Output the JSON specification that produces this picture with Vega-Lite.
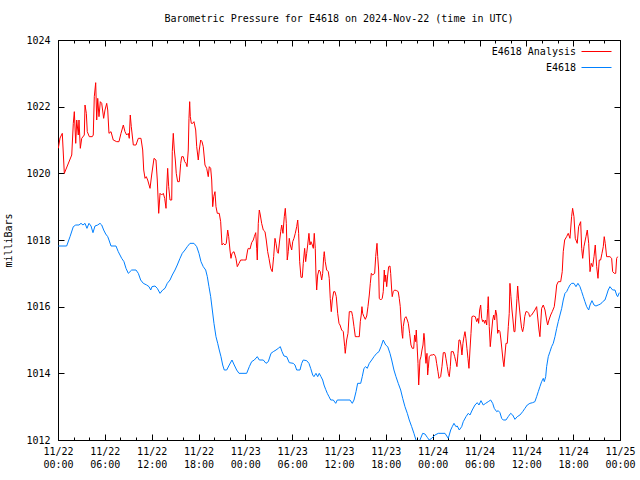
{
  "$schema": "https://vega.github.io/schema/vega-lite/v6.json",
  "autosize": "none",
  "width": 562,
  "height": 400,
  "padding": {"left": 58, "top": 40, "right": 20, "bottom": 40},
  "title": {"text": "Barometric Pressure for E4618 on 2024-Nov-22 (time in UTC)", "font": "DejaVu Sans Mono", "fontSize": 10, "fontWeight": "normal", "anchor": "middle", "offset": 11, "color": "#000000"},
  "config": {
    "view": {"stroke": "#000000", "strokeWidth": 1},
    "axis": {"labelFont": "DejaVu Sans Mono", "labelFontSize": 10, "labelColor": "#000000", "titleFont": "DejaVu Sans Mono", "titleFontSize": 10, "titleFontWeight": "normal", "titleColor": "#000000"},
    "legend": {"labelFont": "DejaVu Sans Mono", "labelFontSize": 10, "labelColor": "#000000", "padding": 0}
  },
  "datasets": {
    "analysis": [
      {"t":0.04,"p":1020.75},{"t":0.26,"p":1021.06},{"t":0.55,"p":1021.2},{"t":0.81,"p":1020.0},{"t":1.76,"p":1020.55},{"t":1.96,"p":1021.5},{"t":2.09,"p":1021.85},{"t":2.27,"p":1020.9},{"t":2.4,"p":1021.6},{"t":2.6,"p":1021.15},{"t":2.69,"p":1021.6},{"t":2.86,"p":1020.75},{"t":3.04,"p":1021.05},{"t":3.37,"p":1021.15},{"t":3.46,"p":1022.05},{"t":3.63,"p":1021.8},{"t":3.75,"p":1021.25},{"t":4.01,"p":1021.1},{"t":4.39,"p":1021.1},{"t":4.52,"p":1021.15},{"t":4.65,"p":1022.3},{"t":4.83,"p":1022.72},{"t":4.96,"p":1021.6},{"t":5.09,"p":1022.25},{"t":5.25,"p":1021.7},{"t":5.42,"p":1022.15},{"t":5.6,"p":1022.1},{"t":5.85,"p":1021.65},{"t":6.02,"p":1021.9},{"t":6.24,"p":1022.1},{"t":6.37,"p":1021.9},{"t":6.53,"p":1021.2},{"t":6.79,"p":1021.25},{"t":7.08,"p":1021.0},{"t":7.52,"p":1020.95},{"t":7.81,"p":1020.95},{"t":8.07,"p":1021.2},{"t":8.37,"p":1021.45},{"t":8.58,"p":1021.25},{"t":8.8,"p":1021.15},{"t":9.01,"p":1021.2},{"t":9.13,"p":1021.05},{"t":9.26,"p":1021.75},{"t":9.39,"p":1021.4},{"t":9.65,"p":1020.85},{"t":9.99,"p":1020.85},{"t":10.29,"p":1021.05},{"t":10.63,"p":1021.05},{"t":10.85,"p":1020.7},{"t":10.98,"p":1020.1},{"t":11.15,"p":1019.85},{"t":11.31,"p":1019.9},{"t":11.49,"p":1019.8},{"t":11.79,"p":1019.55},{"t":12.0,"p":1019.95},{"t":12.3,"p":1020.45},{"t":12.55,"p":1020.4},{"t":12.72,"p":1019.8},{"t":12.9,"p":1018.8},{"t":13.07,"p":1019.4},{"t":13.28,"p":1019.35},{"t":13.49,"p":1019.4},{"t":13.67,"p":1019.25},{"t":13.84,"p":1018.95},{"t":13.92,"p":1019.5},{"t":14.05,"p":1020.15},{"t":14.18,"p":1019.6},{"t":14.35,"p":1019.2},{"t":14.57,"p":1019.2},{"t":14.64,"p":1020.65},{"t":14.77,"p":1021.2},{"t":14.9,"p":1020.7},{"t":15.03,"p":1020.4},{"t":15.15,"p":1020.0},{"t":15.33,"p":1019.75},{"t":15.54,"p":1019.75},{"t":15.72,"p":1020.3},{"t":15.85,"p":1020.5},{"t":16.05,"p":1020.5},{"t":16.23,"p":1020.35},{"t":16.4,"p":1020.3},{"t":16.53,"p":1020.2},{"t":16.69,"p":1020.7},{"t":16.78,"p":1021.65},{"t":16.87,"p":1022.15},{"t":16.95,"p":1021.7},{"t":17.08,"p":1021.5},{"t":17.26,"p":1021.5},{"t":17.42,"p":1021.55},{"t":17.64,"p":1021.3},{"t":17.77,"p":1020.8},{"t":17.97,"p":1020.4},{"t":18.1,"p":1020.7},{"t":18.28,"p":1021.0},{"t":18.45,"p":1020.95},{"t":18.61,"p":1020.8},{"t":18.83,"p":1020.25},{"t":19.05,"p":1020.15},{"t":19.25,"p":1019.9},{"t":19.38,"p":1020.2},{"t":19.56,"p":1020.15},{"t":19.69,"p":1019.8},{"t":19.82,"p":1019.0},{"t":19.95,"p":1019.3},{"t":20.11,"p":1019.45},{"t":20.24,"p":1019.0},{"t":20.41,"p":1018.8},{"t":20.66,"p":1018.8},{"t":20.84,"p":1018.55},{"t":21.01,"p":1017.85},{"t":21.18,"p":1017.9},{"t":21.39,"p":1017.85},{"t":21.56,"p":1017.9},{"t":21.74,"p":1018.3},{"t":21.87,"p":1018.1},{"t":22.03,"p":1017.7},{"t":22.16,"p":1017.45},{"t":22.29,"p":1017.6},{"t":22.55,"p":1017.65},{"t":22.8,"p":1017.45},{"t":22.97,"p":1017.2},{"t":23.19,"p":1017.3},{"t":23.4,"p":1017.4},{"t":23.74,"p":1017.4},{"t":24.08,"p":1017.4},{"t":24.3,"p":1017.7},{"t":24.38,"p":1017.75},{"t":24.6,"p":1017.73},{"t":24.81,"p":1017.92},{"t":25.02,"p":1018.0},{"t":25.15,"p":1018.1},{"t":25.33,"p":1018.22},{"t":25.46,"p":1017.75},{"t":25.53,"p":1017.4},{"t":25.66,"p":1018.5},{"t":25.79,"p":1018.9},{"t":25.92,"p":1018.75},{"t":26.09,"p":1018.5},{"t":26.3,"p":1018.3},{"t":26.52,"p":1018.25},{"t":26.68,"p":1018.0},{"t":26.86,"p":1017.65},{"t":27.03,"p":1017.45},{"t":27.25,"p":1017.15},{"t":27.45,"p":1017.05},{"t":27.63,"p":1017.5},{"t":27.8,"p":1018.05},{"t":27.93,"p":1017.9},{"t":28.09,"p":1017.65},{"t":28.22,"p":1017.6},{"t":28.4,"p":1018.0},{"t":28.53,"p":1018.25},{"t":28.66,"p":1018.45},{"t":28.82,"p":1018.2},{"t":28.99,"p":1018.7},{"t":29.12,"p":1018.95},{"t":29.25,"p":1018.5},{"t":29.37,"p":1017.4},{"t":29.5,"p":1017.65},{"t":29.63,"p":1018.05},{"t":29.76,"p":1017.85},{"t":29.94,"p":1017.7},{"t":30.07,"p":1017.95},{"t":30.23,"p":1018.05},{"t":30.4,"p":1018.2},{"t":30.58,"p":1018.4},{"t":30.71,"p":1018.6},{"t":30.83,"p":1018.2},{"t":30.96,"p":1017.35},{"t":31.13,"p":1016.88},{"t":31.3,"p":1016.88},{"t":31.42,"p":1017.3},{"t":31.6,"p":1017.75},{"t":31.73,"p":1017.35},{"t":31.86,"p":1017.6},{"t":31.99,"p":1017.85},{"t":32.15,"p":1018.2},{"t":32.28,"p":1017.85},{"t":32.41,"p":1017.95},{"t":32.58,"p":1017.85},{"t":32.71,"p":1017.75},{"t":32.83,"p":1018.2},{"t":32.96,"p":1017.75},{"t":33.05,"p":1016.95},{"t":33.14,"p":1016.5},{"t":33.27,"p":1016.95},{"t":33.44,"p":1017.1},{"t":33.6,"p":1017.05},{"t":33.78,"p":1016.8},{"t":33.91,"p":1017.0},{"t":34.04,"p":1017.5},{"t":34.11,"p":1017.65},{"t":34.24,"p":1017.35},{"t":34.42,"p":1017.1},{"t":34.63,"p":1017.05},{"t":34.75,"p":1016.85},{"t":34.88,"p":1016.25},{"t":35.01,"p":1015.85},{"t":35.14,"p":1016.2},{"t":35.32,"p":1016.45},{"t":35.48,"p":1016.45},{"t":35.65,"p":1016.3},{"t":35.83,"p":1015.8},{"t":36.0,"p":1015.5},{"t":36.13,"p":1015.45},{"t":36.34,"p":1015.3},{"t":36.55,"p":1015.25},{"t":36.73,"p":1014.8},{"t":36.8,"p":1014.6},{"t":36.98,"p":1015.0},{"t":37.15,"p":1015.2},{"t":37.32,"p":1015.85},{"t":37.62,"p":1015.85},{"t":37.75,"p":1015.7},{"t":37.92,"p":1015.4},{"t":38.09,"p":1015.1},{"t":38.34,"p":1015.1},{"t":38.6,"p":1015.1},{"t":38.73,"p":1015.55},{"t":38.85,"p":1015.75},{"t":38.94,"p":1016.0},{"t":39.03,"p":1015.8},{"t":39.2,"p":1015.7},{"t":39.37,"p":1015.62},{"t":39.55,"p":1015.72},{"t":39.71,"p":1016.0},{"t":39.88,"p":1016.35},{"t":40.01,"p":1016.7},{"t":40.14,"p":1017.0},{"t":40.31,"p":1016.95},{"t":40.57,"p":1017.0},{"t":40.7,"p":1017.5},{"t":40.78,"p":1017.7},{"t":40.87,"p":1017.9},{"t":40.96,"p":1017.5},{"t":41.08,"p":1017.1},{"t":41.16,"p":1016.25},{"t":41.34,"p":1016.2},{"t":41.54,"p":1016.25},{"t":41.67,"p":1016.45},{"t":41.8,"p":1017.1},{"t":41.89,"p":1016.75},{"t":41.98,"p":1016.95},{"t":42.11,"p":1016.6},{"t":42.24,"p":1016.95},{"t":42.36,"p":1017.2},{"t":42.53,"p":1017.22},{"t":42.62,"p":1017.0},{"t":42.75,"p":1016.5},{"t":42.82,"p":1016.3},{"t":42.95,"p":1016.45},{"t":43.13,"p":1016.5},{"t":43.39,"p":1016.48},{"t":43.59,"p":1016.45},{"t":43.72,"p":1016.25},{"t":43.85,"p":1016.0},{"t":43.94,"p":1015.6},{"t":44.07,"p":1015.2},{"t":44.16,"p":1015.05},{"t":44.23,"p":1015.4},{"t":44.41,"p":1015.65},{"t":44.58,"p":1015.7},{"t":44.75,"p":1015.6},{"t":44.88,"p":1015.5},{"t":45.05,"p":1015.2},{"t":45.22,"p":1014.85},{"t":45.39,"p":1014.75},{"t":45.57,"p":1014.75},{"t":45.69,"p":1015.15},{"t":45.82,"p":1014.95},{"t":45.9,"p":1015.3},{"t":45.99,"p":1014.9},{"t":46.12,"p":1014.3},{"t":46.21,"p":1013.65},{"t":46.28,"p":1013.95},{"t":46.37,"p":1014.4},{"t":46.5,"p":1014.5},{"t":46.63,"p":1014.7},{"t":46.76,"p":1014.85},{"t":46.88,"p":1015.2},{"t":46.97,"p":1015.0},{"t":47.05,"p":1014.55},{"t":47.14,"p":1014.3},{"t":47.27,"p":1014.6},{"t":47.36,"p":1013.95},{"t":47.44,"p":1014.15},{"t":47.56,"p":1014.5},{"t":47.74,"p":1014.55},{"t":47.95,"p":1014.55},{"t":48.17,"p":1014.57},{"t":48.38,"p":1014.5},{"t":48.51,"p":1014.3},{"t":48.68,"p":1014.05},{"t":48.81,"p":1013.85},{"t":49.02,"p":1013.9},{"t":49.19,"p":1014.2},{"t":49.36,"p":1014.62},{"t":49.58,"p":1014.62},{"t":49.7,"p":1014.45},{"t":49.87,"p":1014.2},{"t":50.0,"p":1014.0},{"t":50.13,"p":1013.9},{"t":50.26,"p":1014.2},{"t":50.38,"p":1014.65},{"t":50.64,"p":1014.65},{"t":50.82,"p":1014.5},{"t":50.98,"p":1014.35},{"t":51.11,"p":1014.2},{"t":51.24,"p":1014.6},{"t":51.37,"p":1015.0},{"t":51.5,"p":1015.0},{"t":51.62,"p":1014.85},{"t":51.75,"p":1014.55},{"t":51.88,"p":1014.9},{"t":52.01,"p":1015.1},{"t":52.14,"p":1015.25},{"t":52.26,"p":1015.05},{"t":52.39,"p":1014.75},{"t":52.52,"p":1014.45},{"t":52.65,"p":1014.15},{"t":52.78,"p":1014.7},{"t":52.91,"p":1015.2},{"t":53.03,"p":1015.7},{"t":53.2,"p":1015.72},{"t":53.46,"p":1015.7},{"t":53.64,"p":1015.55},{"t":53.8,"p":1015.65},{"t":53.89,"p":1015.5},{"t":54.02,"p":1015.9},{"t":54.15,"p":1016.05},{"t":54.28,"p":1015.65},{"t":54.41,"p":1015.55},{"t":54.53,"p":1015.6},{"t":54.66,"p":1015.5},{"t":54.79,"p":1015.6},{"t":54.92,"p":1015.45},{"t":55.05,"p":1015.95},{"t":55.12,"p":1016.3},{"t":55.25,"p":1015.4},{"t":55.38,"p":1014.8},{"t":55.51,"p":1015.15},{"t":55.69,"p":1015.6},{"t":55.82,"p":1015.75},{"t":55.94,"p":1015.6},{"t":56.07,"p":1015.9},{"t":56.2,"p":1015.75},{"t":56.33,"p":1015.2},{"t":56.46,"p":1015.3},{"t":56.62,"p":1015.25},{"t":56.75,"p":1015.0},{"t":56.88,"p":1014.7},{"t":57.01,"p":1014.4},{"t":57.13,"p":1014.2},{"t":57.26,"p":1014.55},{"t":57.39,"p":1014.9},{"t":57.56,"p":1014.9},{"t":57.69,"p":1015.4},{"t":57.81,"p":1015.8},{"t":57.9,"p":1016.7},{"t":58.03,"p":1016.3},{"t":58.16,"p":1015.9},{"t":58.29,"p":1015.6},{"t":58.42,"p":1015.25},{"t":58.54,"p":1015.25},{"t":58.67,"p":1015.75},{"t":58.8,"p":1016.25},{"t":58.89,"p":1016.62},{"t":59.02,"p":1016.2},{"t":59.14,"p":1015.9},{"t":59.27,"p":1015.6},{"t":59.4,"p":1015.35},{"t":59.53,"p":1015.25},{"t":59.66,"p":1015.4},{"t":59.79,"p":1015.7},{"t":59.95,"p":1015.85},{"t":60.12,"p":1015.85},{"t":60.3,"p":1015.8},{"t":60.43,"p":1015.7},{"t":60.68,"p":1015.75},{"t":61.1,"p":1015.9},{"t":61.32,"p":1016.0},{"t":61.62,"p":1015.3},{"t":61.74,"p":1015.1},{"t":61.96,"p":1015.95},{"t":62.17,"p":1016.05},{"t":62.39,"p":1015.9},{"t":62.6,"p":1015.6},{"t":62.73,"p":1015.45},{"t":62.9,"p":1015.6},{"t":63.12,"p":1015.75},{"t":63.32,"p":1015.85},{"t":63.58,"p":1016.0},{"t":63.76,"p":1016.35},{"t":63.89,"p":1016.65},{"t":64.09,"p":1016.75},{"t":64.4,"p":1016.75},{"t":64.6,"p":1017.05},{"t":64.73,"p":1017.65},{"t":64.91,"p":1018.0},{"t":65.16,"p":1018.1},{"t":65.37,"p":1018.2},{"t":65.59,"p":1018.05},{"t":65.8,"p":1018.7},{"t":65.93,"p":1018.95},{"t":66.1,"p":1018.7},{"t":66.27,"p":1018.05},{"t":66.52,"p":1017.9},{"t":66.7,"p":1018.4},{"t":66.96,"p":1018.55},{"t":67.09,"p":1017.75},{"t":67.22,"p":1017.45},{"t":67.38,"p":1017.8},{"t":67.64,"p":1018.1},{"t":67.81,"p":1018.3},{"t":67.99,"p":1017.9},{"t":68.16,"p":1017.05},{"t":68.32,"p":1017.3},{"t":68.5,"p":1017.2},{"t":68.67,"p":1017.5},{"t":68.83,"p":1017.85},{"t":69.01,"p":1017.2},{"t":69.18,"p":1016.85},{"t":69.34,"p":1017.4},{"t":69.52,"p":1017.4},{"t":69.69,"p":1017.6},{"t":69.86,"p":1017.8},{"t":69.98,"p":1018.1},{"t":70.11,"p":1017.9},{"t":70.29,"p":1017.5},{"t":70.46,"p":1017.5},{"t":70.71,"p":1017.5},{"t":70.93,"p":1017.45},{"t":71.06,"p":1017.05},{"t":71.27,"p":1017.0},{"t":71.45,"p":1017.0},{"t":71.57,"p":1017.45},{"t":71.7,"p":1017.5}
    ],
    "obs": [
      {"t":0.04,"p":1017.82},{"t":1.11,"p":1017.82},{"t":1.54,"p":1018.1},{"t":1.96,"p":1018.4},{"t":2.27,"p":1018.45},{"t":2.69,"p":1018.45},{"t":2.95,"p":1018.5},{"t":3.2,"p":1018.45},{"t":3.46,"p":1018.5},{"t":3.71,"p":1018.35},{"t":3.97,"p":1018.5},{"t":4.23,"p":1018.42},{"t":4.48,"p":1018.22},{"t":4.74,"p":1018.42},{"t":5.09,"p":1018.45},{"t":5.38,"p":1018.5},{"t":5.6,"p":1018.45},{"t":5.85,"p":1018.3},{"t":6.11,"p":1018.18},{"t":6.37,"p":1018.1},{"t":6.53,"p":1018.0},{"t":6.79,"p":1017.82},{"t":7.43,"p":1017.82},{"t":7.72,"p":1017.65},{"t":8.16,"p":1017.45},{"t":8.45,"p":1017.35},{"t":8.71,"p":1017.15},{"t":9.01,"p":1017.0},{"t":9.44,"p":1017.1},{"t":9.99,"p":1017.1},{"t":10.29,"p":1017.0},{"t":10.59,"p":1016.8},{"t":10.93,"p":1016.7},{"t":11.36,"p":1016.65},{"t":11.66,"p":1016.6},{"t":11.88,"p":1016.5},{"t":12.04,"p":1016.6},{"t":12.43,"p":1016.62},{"t":12.72,"p":1016.55},{"t":13.07,"p":1016.4},{"t":13.41,"p":1016.5},{"t":13.71,"p":1016.55},{"t":14.0,"p":1016.7},{"t":14.35,"p":1016.8},{"t":14.64,"p":1016.95},{"t":14.99,"p":1017.1},{"t":15.28,"p":1017.25},{"t":15.63,"p":1017.45},{"t":15.92,"p":1017.6},{"t":16.27,"p":1017.7},{"t":16.56,"p":1017.8},{"t":16.91,"p":1017.9},{"t":17.42,"p":1017.9},{"t":17.77,"p":1017.8},{"t":18.06,"p":1017.6},{"t":18.32,"p":1017.35},{"t":18.61,"p":1017.2},{"t":18.92,"p":1017.1},{"t":19.13,"p":1016.9},{"t":19.34,"p":1016.6},{"t":19.56,"p":1016.3},{"t":19.77,"p":1015.9},{"t":19.98,"p":1015.5},{"t":20.24,"p":1015.1},{"t":20.46,"p":1014.9},{"t":20.66,"p":1014.7},{"t":20.88,"p":1014.5},{"t":21.1,"p":1014.25},{"t":21.3,"p":1014.1},{"t":21.61,"p":1014.1},{"t":21.94,"p":1014.25},{"t":22.29,"p":1014.4},{"t":22.58,"p":1014.25},{"t":22.89,"p":1014.1},{"t":23.19,"p":1014.0},{"t":24.17,"p":1014.0},{"t":24.51,"p":1014.2},{"t":24.81,"p":1014.35},{"t":25.15,"p":1014.4},{"t":25.53,"p":1014.5},{"t":25.79,"p":1014.4},{"t":26.3,"p":1014.4},{"t":26.65,"p":1014.3},{"t":26.94,"p":1014.35},{"t":27.29,"p":1014.6},{"t":27.58,"p":1014.65},{"t":27.93,"p":1014.7},{"t":28.22,"p":1014.75},{"t":28.48,"p":1014.8},{"t":28.7,"p":1014.65},{"t":28.95,"p":1014.52},{"t":29.3,"p":1014.5},{"t":29.63,"p":1014.32},{"t":30.14,"p":1014.3},{"t":30.36,"p":1014.25},{"t":30.58,"p":1014.1},{"t":31.0,"p":1014.1},{"t":31.22,"p":1014.3},{"t":31.42,"p":1014.4},{"t":31.86,"p":1014.38},{"t":32.15,"p":1014.3},{"t":32.37,"p":1014.15},{"t":32.63,"p":1013.95},{"t":32.79,"p":1013.9},{"t":33.05,"p":1014.0},{"t":33.27,"p":1013.9},{"t":33.47,"p":1014.0},{"t":33.69,"p":1013.9},{"t":33.91,"p":1013.8},{"t":34.08,"p":1013.65},{"t":34.29,"p":1013.52},{"t":34.5,"p":1013.4},{"t":34.72,"p":1013.3},{"t":34.94,"p":1013.2},{"t":35.27,"p":1013.2},{"t":35.58,"p":1013.1},{"t":35.78,"p":1013.2},{"t":37.41,"p":1013.2},{"t":37.7,"p":1013.1},{"t":37.92,"p":1013.2},{"t":38.18,"p":1013.45},{"t":38.39,"p":1013.7},{"t":38.78,"p":1013.7},{"t":38.98,"p":1013.9},{"t":39.2,"p":1014.15},{"t":39.42,"p":1014.2},{"t":39.62,"p":1014.15},{"t":39.88,"p":1014.3},{"t":40.19,"p":1014.4},{"t":40.48,"p":1014.5},{"t":40.83,"p":1014.6},{"t":41.12,"p":1014.65},{"t":41.38,"p":1014.8},{"t":41.67,"p":1015.0},{"t":41.98,"p":1014.85},{"t":42.24,"p":1014.8},{"t":42.53,"p":1014.6},{"t":42.75,"p":1014.4},{"t":43.04,"p":1014.1},{"t":43.3,"p":1013.9},{"t":43.59,"p":1013.7},{"t":43.9,"p":1013.5},{"t":44.16,"p":1013.25},{"t":44.45,"p":1013.0},{"t":44.75,"p":1012.8},{"t":45.0,"p":1012.6},{"t":45.31,"p":1012.4},{"t":45.6,"p":1012.2},{"t":45.86,"p":1012.0},{"t":46.12,"p":1011.9},{"t":46.37,"p":1012.0},{"t":46.72,"p":1012.2},{"t":47.01,"p":1012.18},{"t":47.31,"p":1012.08},{"t":47.56,"p":1012.0},{"t":47.87,"p":1012.05},{"t":48.3,"p":1012.15},{"t":48.72,"p":1012.2},{"t":49.58,"p":1012.2},{"t":50.0,"p":1012.05},{"t":50.31,"p":1012.3},{"t":50.51,"p":1012.4},{"t":50.73,"p":1012.5},{"t":50.98,"p":1012.4},{"t":51.15,"p":1012.42},{"t":51.41,"p":1012.3},{"t":51.72,"p":1012.4},{"t":51.92,"p":1012.55},{"t":52.27,"p":1012.7},{"t":52.56,"p":1012.8},{"t":52.78,"p":1012.75},{"t":53.07,"p":1012.9},{"t":53.42,"p":1013.05},{"t":53.71,"p":1013.12},{"t":53.93,"p":1013.05},{"t":54.19,"p":1013.18},{"t":54.48,"p":1013.05},{"t":54.79,"p":1013.1},{"t":55.12,"p":1013.15},{"t":55.43,"p":1013.2},{"t":55.69,"p":1013.1},{"t":55.89,"p":1012.95},{"t":56.2,"p":1012.85},{"t":56.4,"p":1012.88},{"t":56.62,"p":1012.82},{"t":56.84,"p":1012.65},{"t":57.04,"p":1012.6},{"t":57.39,"p":1012.6},{"t":57.68,"p":1012.7},{"t":57.99,"p":1012.8},{"t":58.25,"p":1012.75},{"t":58.54,"p":1012.62},{"t":58.84,"p":1012.7},{"t":59.18,"p":1012.75},{"t":59.53,"p":1012.85},{"t":59.82,"p":1012.95},{"t":60.12,"p":1013.05},{"t":60.46,"p":1013.1},{"t":60.81,"p":1013.12},{"t":61.1,"p":1013.15},{"t":61.32,"p":1013.3},{"t":61.53,"p":1013.45},{"t":61.74,"p":1013.6},{"t":61.96,"p":1013.75},{"t":62.17,"p":1013.85},{"t":62.3,"p":1013.75},{"t":62.48,"p":1013.9},{"t":62.6,"p":1014.2},{"t":62.81,"p":1014.5},{"t":63.03,"p":1014.65},{"t":63.24,"p":1014.8},{"t":63.45,"p":1014.9},{"t":63.67,"p":1015.1},{"t":63.89,"p":1015.35},{"t":64.09,"p":1015.55},{"t":64.31,"p":1015.75},{"t":64.53,"p":1015.95},{"t":64.73,"p":1016.2},{"t":64.95,"p":1016.4},{"t":65.16,"p":1016.45},{"t":65.37,"p":1016.55},{"t":65.59,"p":1016.65},{"t":65.8,"p":1016.7},{"t":66.1,"p":1016.7},{"t":66.36,"p":1016.6},{"t":66.61,"p":1016.7},{"t":66.87,"p":1016.6},{"t":67.09,"p":1016.45},{"t":67.3,"p":1016.3},{"t":67.51,"p":1016.15},{"t":67.73,"p":1016.0},{"t":67.99,"p":1015.9},{"t":68.16,"p":1016.05},{"t":68.41,"p":1016.18},{"t":68.67,"p":1016.05},{"t":68.92,"p":1016.02},{"t":69.21,"p":1016.05},{"t":69.52,"p":1016.08},{"t":69.78,"p":1016.15},{"t":70.07,"p":1016.2},{"t":70.29,"p":1016.35},{"t":70.49,"p":1016.5},{"t":70.71,"p":1016.6},{"t":71.06,"p":1016.5},{"t":71.36,"p":1016.5},{"t":71.57,"p":1016.35},{"t":71.7,"p":1016.3},{"t":71.91,"p":1016.42}
    ]
  },
  "layer": [
    {
      "data": {"name": "analysis"},
      "mark": {"type": "line", "strokeWidth": 1, "clip": true, "interpolate": "linear"},
      "encoding": {
        "x": {"field": "t", "type": "quantitative",
          "scale": {"domain": [0, 72], "nice": false, "zero": false},
          "axis": {"orient": "bottom", "title": null, "domain": false, "ticks": false,
            "grid": true, "gridColor": "#000000", "gridWidth": 1, "gridOpacity": 1, "gridDash": [6, 388, 6, 0],
            "values": [0,6,12,18,24,30,36,42,48,54,60,66,72],
            "labelExpr": "['11/' + (22 + floor(datum.value/24)), ((datum.value % 24) < 10 ? '0' : '') + (datum.value % 24) + ':00']",
            "labelPadding": 6, "labelLineHeight": 13, "labelOverlap": false, "labelFlush": false, "labelBound": false}},
        "y": {"field": "p", "type": "quantitative",
          "scale": {"domain": [1012, 1024], "nice": false, "zero": false},
          "axis": {"orient": "left", "title": "milliBars", "titlePadding": 12, "domain": false, "ticks": false,
            "grid": true, "gridColor": "#000000", "gridWidth": 1, "gridOpacity": 1, "gridDash": [6, 550, 6, 0],
            "values": [1012,1014,1016,1018,1020,1022,1024], "format": "d", "labelPadding": 8}},
        "color": {"datum": "E4618 Analysis", "type": "nominal",
          "scale": {"domain": ["E4618 Analysis", "E4618"], "range": ["#ff0000", "#0080ff"]},
          "legend": {"title": null, "orient": "top-right", "offset": 6, "symbolType": "M-3,0H3", "symbolSize": 100, "symbolStrokeWidth": 1, "labelAlign": "right", "labelOffset": -26, "rowPadding": 5}}
      }
    },
    {
      "data": {"name": "obs"},
      "mark": {"type": "line", "strokeWidth": 1, "clip": true, "interpolate": "linear"},
      "encoding": {
        "x": {"field": "t", "type": "quantitative",
          "axis": {"orient": "top", "title": null, "labels": false, "domain": false, "ticks": false,
            "grid": true, "gridColor": "#000000", "gridWidth": 1, "gridOpacity": 1, "gridDash": [3, 394, 3, 0],
            "values": [0,2,4,6,8,10,12,14,16,18,20,22,24,26,28,30,32,34,36,38,40,42,44,46,48,50,52,54,56,58,60,62,64,66,68,70,72]}},
        "y": {"field": "p", "type": "quantitative"},
        "color": {"datum": "E4618", "type": "nominal"}
      }
    }
  ],
  "resolve": {"axis": {"x": "independent"}}
}
